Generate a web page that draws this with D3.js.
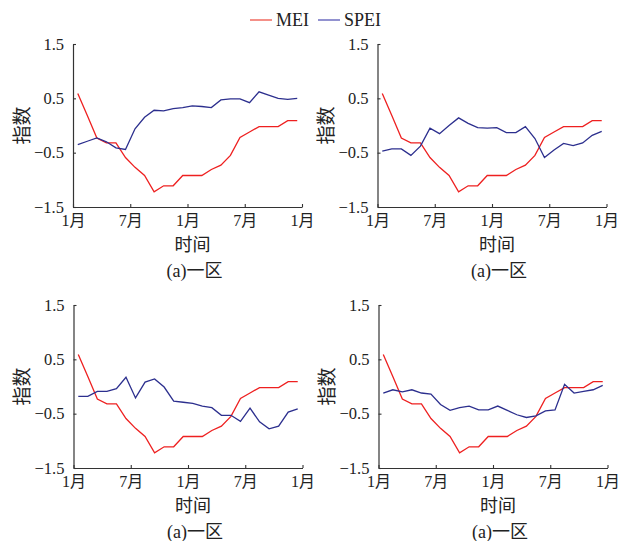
<!DOCTYPE html>
<html><head><meta charset="utf-8">
<script src="https://cdn.jsdelivr.net/npm/d3@7"></script>
<style>
body{margin:0;background:#fff;}
text{font-family:"Liberation Serif","Noto Sans CJK SC",serif;fill:#222;}
</style></head>
<body>
<svg id="c" width="619" height="541"></svg>
<script>
const xTickValues = [0, 6, 12, 18, 24];
const xTickLabels = ["1月", "7月", "1月", "7月", "1月"];
const yTickValues = [-1.5, -0.5, 0.5, 1.5];
const seriesNames = ["MEI", "SPEI"];
const panelCaptions = ["(a)一区", "(a)一区", "(a)一区", "(a)一区"];

const mei = [0.59, 0.185, -0.23, -0.32, -0.32, -0.59, -0.77, -0.92, -1.22, -1.11, -1.11, -0.92,
             -0.92, -0.92, -0.81, -0.73, -0.55, -0.22, -0.12, -0.02, -0.02, -0.02, 0.09, 0.09];
const spei1 = [-0.35, -0.29, -0.23, -0.30, -0.41, -0.44, -0.06, 0.15, 0.28, 0.27, 0.31, 0.33,
               0.36, 0.35, 0.33, 0.47, 0.49, 0.49, 0.42, 0.62, 0.56, 0.50, 0.48, 0.50];
const spei2 = [-0.47, -0.43, -0.43, -0.55, -0.38, -0.05, -0.15, 0.0, 0.14, 0.04, -0.04, -0.05,
               -0.04, -0.13, -0.13, -0.02, -0.24, -0.59, -0.45, -0.33, -0.37, -0.32, -0.18, -0.11];
const spei3 = [-0.18, -0.18, -0.09, -0.09, -0.04, 0.17, -0.21, 0.08, 0.14, -0.01, -0.27, -0.29,
               -0.31, -0.36, -0.39, -0.53, -0.53, -0.64, -0.40, -0.65, -0.78, -0.73, -0.47, -0.41];
const spei4 = [-0.12, -0.06, -0.10, -0.06, -0.12, -0.14, -0.33, -0.44, -0.39, -0.36, -0.43, -0.43,
               -0.36, -0.44, -0.52, -0.57, -0.54, -0.45, -0.43, 0.04, -0.12, -0.09, -0.06, 0.02];
const speiPanels = [spei1, spei2, spei3, spei4];

const colors = {MEI: "#ee2020", SPEI: "#2c2f8e"};
const legendColors = {MEI: "#f2746a", SPEI: "#7676c4"};

const svg = d3.select("#c");
const panels = [
  {left: 73, top: 44, bottom: 207},
  {left: 377.5, top: 44, bottom: 207},
  {left: 73.5, top: 305, bottom: 468},
  {left: 378.5, top: 305, bottom: 468}
];
const W = 229;

panels.forEach((p, k) => {
  const g = svg.append("g").attr("transform", `translate(${p.left},0)`);
  const x = d3.scaleLinear().domain([0, 24]).range([0, W]);
  const y = d3.scaleLinear().domain([-1.5, 1.5]).range([p.bottom, p.top]);

  const yAxis = d3.axisLeft(y).tickValues(yTickValues).tickFormat(d3.format(".1f"))
    .tickSizeInner(-3).tickSizeOuter(0).tickPadding(9);
  const ya = g.append("g").call(yAxis);
  ya.selectAll("text").style("font-size", "16.5px");

  const xAxis = d3.axisBottom(x).tickValues(xTickValues).tickFormat((d, i) => xTickLabels[i])
    .tickSizeInner(-3).tickSizeOuter(0).tickPadding(8);
  const xa = g.append("g").attr("transform", `translate(0,${p.bottom})`).call(xAxis);
  xa.selectAll("text").style("font-size", "16px");

  [ya, xa].forEach(a => {
    a.select(".domain").attr("stroke", "#333").attr("stroke-width", 1.2);
    a.selectAll(".tick line").attr("stroke", "#333").attr("stroke-width", 1.1);
  });

  const line = d3.line().x((d, i) => x(i + 0.5)).y(d => y(d));
  g.append("path").datum(mei).attr("d", line).attr("fill", "none")
    .attr("stroke", colors.MEI).attr("stroke-width", 1.3);
  g.append("path").datum(speiPanels[k]).attr("d", line).attr("fill", "none")
    .attr("stroke", colors.SPEI).attr("stroke-width", 1.3);

  g.append("text").attr("transform", `translate(-51,${(p.top + p.bottom) / 2}) rotate(-90)`)
    .attr("text-anchor", "middle").attr("dy", "0.35em").style("font-size", "19px").text("指数");
  g.append("text").attr("x", W / 2 + 5).attr("y", p.bottom + 38)
    .attr("text-anchor", "middle").attr("dy", "0.35em").style("font-size", "18px").text("时间");
  g.append("text").attr("x", W / 2 + 7).attr("y", p.bottom + 64)
    .attr("text-anchor", "middle").attr("dy", "0.35em").style("font-size", "18px").text(panelCaptions[k]);
});

// legend
const legend = [{name: seriesNames[0], x: 250}, {name: seriesNames[1], x: 318}];
legend.forEach(l => {
  svg.append("line").attr("x1", l.x).attr("x2", l.x + 22).attr("y1", 20).attr("y2", 20)
    .attr("stroke", legendColors[l.name]).attr("stroke-width", 1.6);
  svg.append("text").attr("x", l.x + 26).attr("y", 20).attr("dy", "0.35em")
    .style("font-size", "18px").text(l.name);
});
</script>
</body></html>
